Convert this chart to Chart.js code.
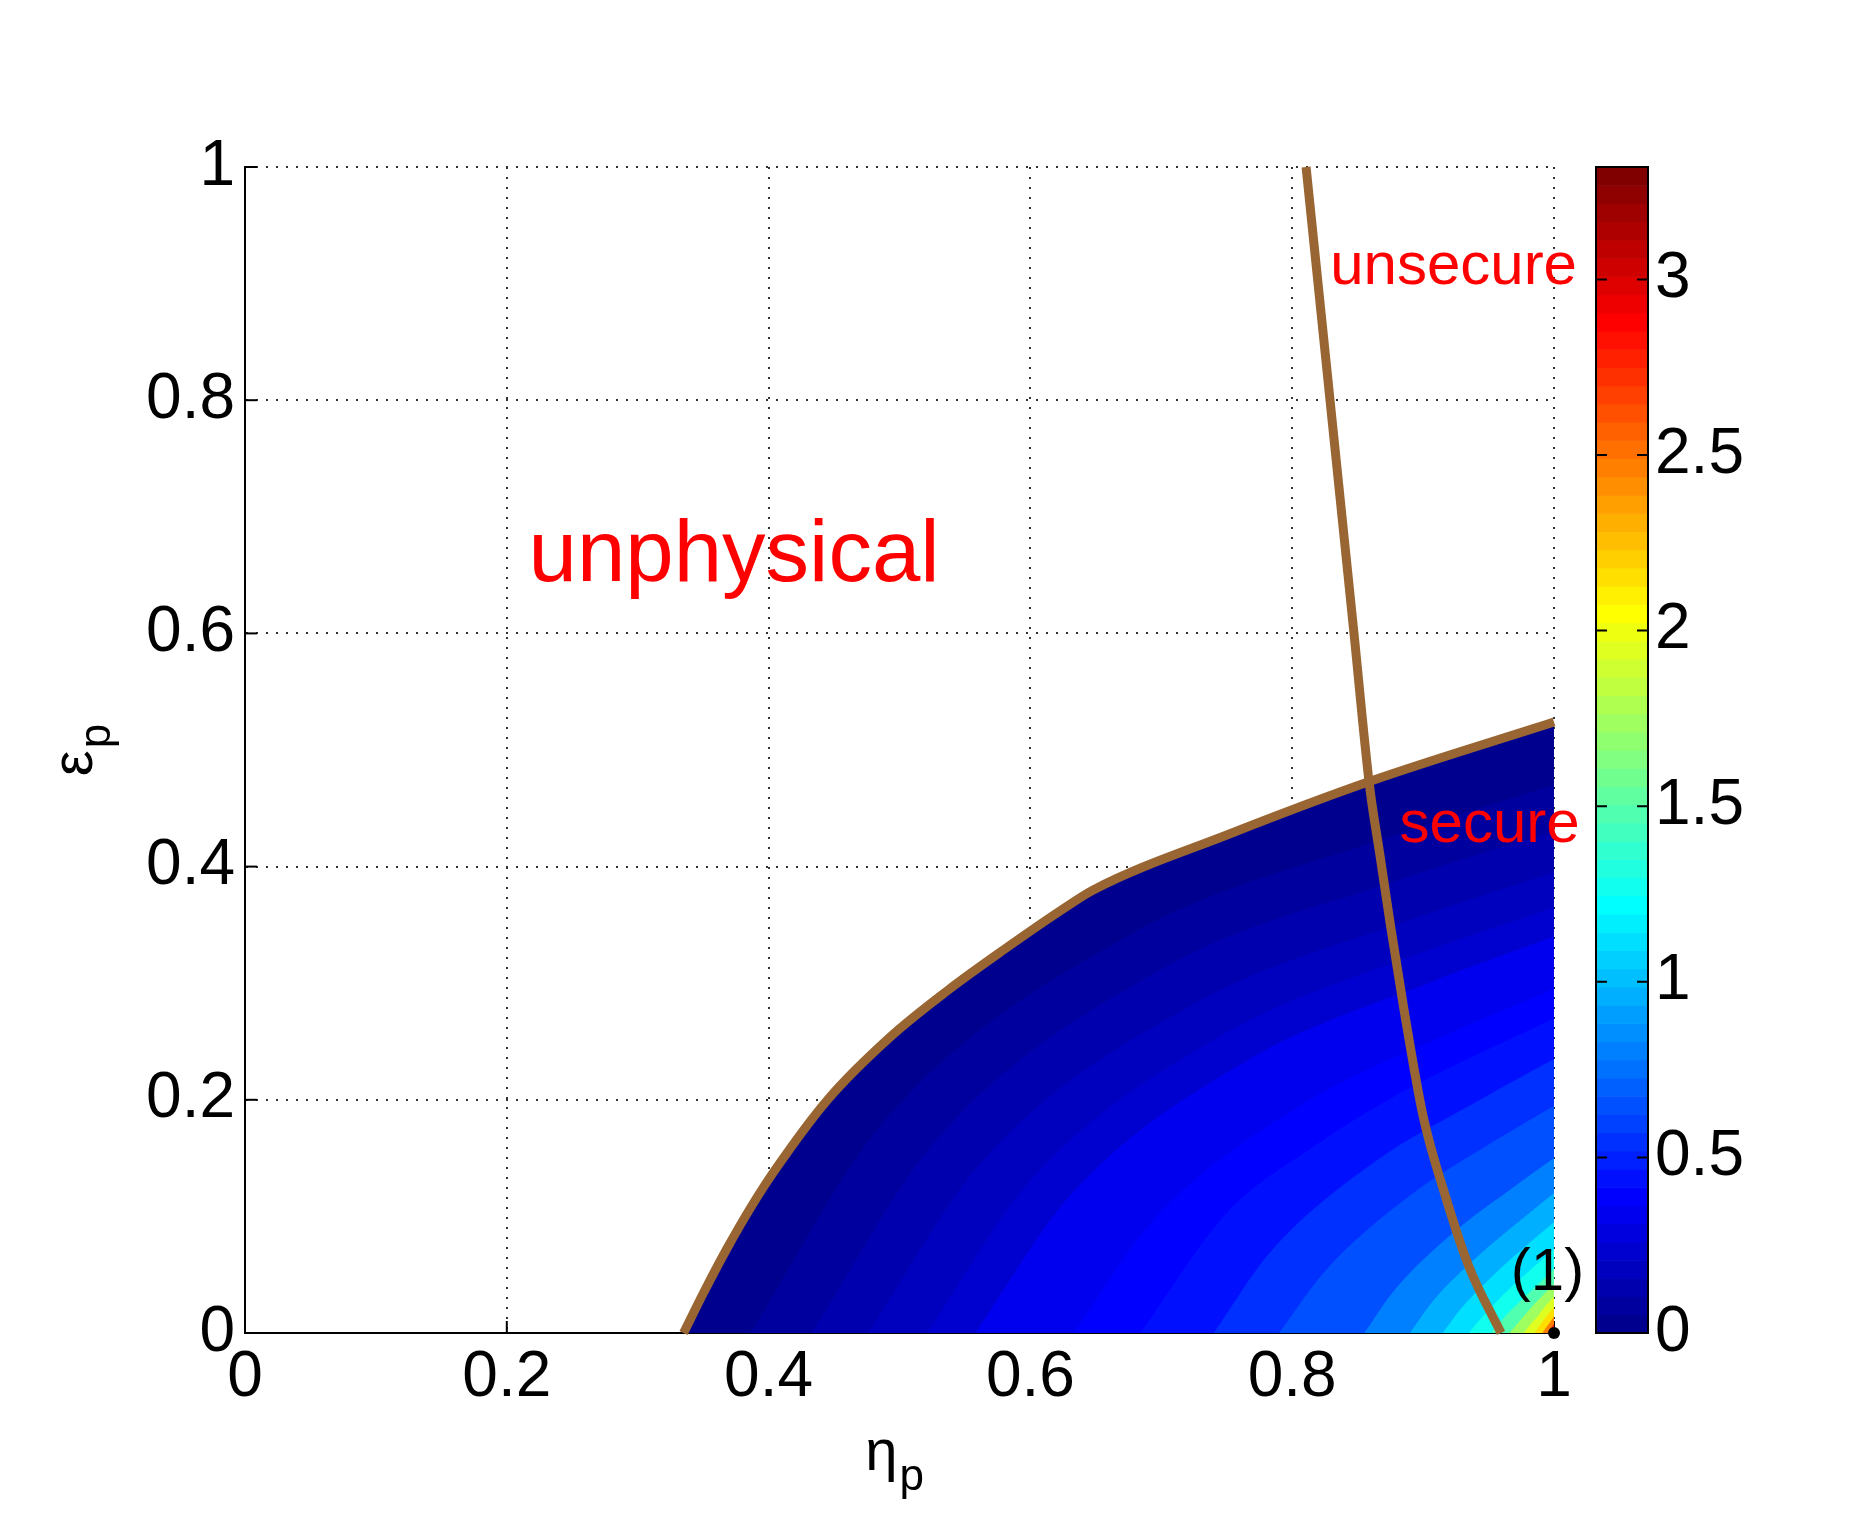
<!DOCTYPE html>
<html>
<head>
<meta charset="utf-8">
<script src="https://cdn.jsdelivr.net/npm/chart.js@4.4.1/dist/chart.umd.min.js"></script>
<style>
html, body { margin: 0; padding: 0; background: #fff; }
#wrap { width: 1870px; height: 1518px; position: relative; }
</style>
</head>
<body>
<div id="wrap"><canvas id="myChart"></canvas></div>
<script>
var xTicks = [0, 0.2, 0.4, 0.6, 0.8, 1];
var yTicks = [0, 0.2, 0.4, 0.6, 0.8, 1];
var barTicks = [0, 0.5, 1, 1.5, 2, 2.5, 3];
var barMax = 3.32;

// edge of the physical region (eta_p, eps_p)
var physicalEdge = [
	[0.335, 0], [0.351, 0.036], [0.368, 0.072], [0.386, 0.107], [0.405, 0.14],
	[0.445, 0.2], [0.493, 0.254], [0.537, 0.294], [0.58, 0.329], [0.624, 0.363],
	[0.648, 0.38], [0.752, 0.428], [0.859, 0.473], [1, 0.524],
];

// secure / unsecure border
var secureEdge = [
	[0.8106, 1], [0.8289, 0.8], [0.8472, 0.6], [0.859, 0.47], [0.867, 0.41],
	[0.875, 0.35], [0.885, 0.28], [0.9, 0.186], [0.918, 0.114], [0.935, 0.057], [0.9595, 0],
];

var pointOne = [[1, 0]];

// contour levels and the lines where they sit
var contourLevels = [0.05, 0.1, 0.15, 0.2, 0.26, 0.31, 0.36, 0.41, 0.5, 0.6, 0.75, 0.9, 1.05, 1.24, 1.45, 1.67, 1.9, 2.1, 2.4, 2.7, 3.0];
var contourLines = [
	[[0.386, 0], [0.487, 0.18], [0.675, 0.341], [0.87, 0.424], [1, 0.47]],
	[[0.433, 0], [0.527, 0.164], [0.7, 0.312], [0.88, 0.388], [1, 0.43]],
	[[0.476, 0], [0.563, 0.147], [0.723, 0.281], [0.889, 0.354], [1, 0.395]],
	[[0.521, 0], [0.6, 0.131], [0.747, 0.256], [0.898, 0.326], [1, 0.365]],
	[[0.558, 0], [0.631, 0.119], [0.766, 0.234], [0.906, 0.301], [1, 0.34]],
	[[0.594, 0], [0.661, 0.107], [0.785, 0.212], [0.914, 0.277], [1, 0.315]],
	[[0.633, 0], [0.694, 0.097], [0.806, 0.195], [0.922, 0.258], [1, 0.295]],
	[[0.684, 0], [0.75, 0.103], [0.8165, 0.16], [0.883, 0.206], [1, 0.27]],
	[[0.74, 0], [0.783, 0.069], [0.862, 0.146], [0.945, 0.201], [1, 0.235]],
	[[0.79, 0], [0.825, 0.053], [0.889, 0.117], [0.955, 0.165], [1, 0.195]],
	[[0.855, 0], [0.879, 0.038], [0.923, 0.086], [0.969, 0.125], [1, 0.15]],
	[[0.89, 0], [0.908, 0.028], [0.942, 0.066], [0.977, 0.099], [1, 0.12]],
	[[0.915, 0], [0.929, 0.021], [0.955, 0.051], [0.982, 0.078], [1, 0.095]],
	[[0.935, 0], [0.946, 0.015], [0.966, 0.038], [0.986, 0.058], [1, 0.072]],
	[[0.952, 0], [0.96, 0.011], [0.975, 0.028], [0.99, 0.044], [1, 0.055]],
	[[0.966, 0], [0.972, 0.008], [0.982, 0.021], [0.993, 0.034], [1, 0.042]],
	[[0.977, 0], [0.981, 0.006], [0.988, 0.015], [0.995, 0.025], [1, 0.031]],
	[[0.985, 0], [0.992, 0.011], [1, 0.022]],
	[[0.991, 0], [0.9955, 0.007], [1, 0.014]],
	[[0.995, 0], [1, 0.008]],
	[[0.998, 0], [1, 0.004]],
];

var regionLabels = [
	{ text: 'unphysical', x: 0.2166, y: 0.645, size: 87, color: '#ff0000' },
	{ text: 'unsecure', x: 0.829, y: 0.9, size: 60, color: '#ff0000' },
	{ text: 'secure', x: 0.882, y: 0.421, size: 60, color: '#ff0000' },
	{ text: '(1)', x: 0.967, y: 0.037, size: 60, color: '#000000' },
];

var FONT = "'Liberation Sans', Arial, Helvetica, sans-serif";
var brown = 'rgb(153,102,51)';

function jet(i) {
	var t = (i + 1) / 64;
	function c(v) { return Math.round(255 * Math.max(0, Math.min(1, v))); }
	return 'rgb(' + c(1.5 - Math.abs(4 * t - 3)) + ',' + c(1.5 - Math.abs(4 * t - 2)) + ',' + c(1.5 - Math.abs(4 * t - 1)) + ')';
}
function levelColor(v) {
	var i = v > 0 ? Math.floor(v / (barMax / 64)) + 1 : 0;
	return jet(Math.max(0, Math.min(63, i)));
}
function pts(arr) {
	return arr.map(function (p) { return { x: p[0], y: p[1] }; });
}

var datasets = [];
datasets.push({
	data: pts(pointOne), showLine: false, pointRadius: 6, pointBackgroundColor: '#000',
	pointBorderWidth: 0, order: 0, clip: false,
});
datasets.push({
	data: pts(secureEdge), borderColor: brown, borderWidth: 9, pointRadius: 0,
	fill: false, cubicInterpolationMode: 'monotone', order: 1, clip: false,
});
datasets.push({
	data: pts(physicalEdge), borderColor: brown, borderWidth: 9, pointRadius: 0,
	fill: false, cubicInterpolationMode: 'monotone', order: 2, clip: false,
});
datasets.push({
	data: pts(physicalEdge), borderColor: 'transparent', borderWidth: 0, pointRadius: 0,
	fill: 'origin', backgroundColor: levelColor(0), cubicInterpolationMode: 'monotone', order: 100,
});
contourLines.forEach(function (line, k) {
	datasets.push({
		data: pts(line), borderColor: 'transparent', borderWidth: 0, pointRadius: 0,
		fill: 'origin', backgroundColor: levelColor(contourLevels[k]),
		cubicInterpolationMode: 'monotone', order: 99 - k,
	});
});

var extras = {
	id: 'extras',
	beforeDatasetsDraw: function (chart) {
		var ctx = chart.ctx, a = chart.chartArea, sx = chart.scales.x, sy = chart.scales.y;
		ctx.save();
		ctx.strokeStyle = '#000';
		ctx.lineWidth = 2;
		xTicks.forEach(function (v) {
			var p = sx.getPixelForValue(v);
			ctx.beginPath(); ctx.moveTo(p, a.bottom); ctx.lineTo(p, a.bottom - 12); ctx.stroke();
		});
		yTicks.forEach(function (v) {
			var p = sy.getPixelForValue(v);
			ctx.beginPath(); ctx.moveTo(a.left, p); ctx.lineTo(a.left + 12, p); ctx.stroke();
		});
		ctx.restore();
	},
	afterDatasetsDraw: function (chart) {
		var ctx = chart.ctx, sx = chart.scales.x, sy = chart.scales.y;
		ctx.save();
		ctx.textAlign = 'left';
		ctx.textBaseline = 'alphabetic';
		regionLabels.forEach(function (l) {
			ctx.font = l.size + 'px ' + FONT;
			ctx.fillStyle = l.color;
			ctx.fillText(l.text, sx.getPixelForValue(l.x), sy.getPixelForValue(l.y));
		});
		ctx.restore();
	},
	afterDraw: function (chart) {
		var ctx = chart.ctx, a = chart.chartArea, sc = chart.scales.c;
		var x0 = 1596, x1 = 1648;
		ctx.save();
		// colour bar
		var step = barMax / 64;
		for (var i = 0; i < 64; i++) {
			var yb = sc.getPixelForValue(i * step), yt = sc.getPixelForValue((i + 1) * step);
			ctx.fillStyle = jet(i);
			ctx.fillRect(x0, yt, x1 - x0, yb - yt + 0.6);
		}
		ctx.strokeStyle = '#000';
		ctx.lineWidth = 2;
		ctx.strokeRect(x0, sc.getPixelForValue(barMax), x1 - x0, sc.getPixelForValue(0) - sc.getPixelForValue(barMax));
		barTicks.forEach(function (v) {
			var p = sc.getPixelForValue(v);
			ctx.beginPath();
			ctx.moveTo(x0, p); ctx.lineTo(x0 + 11, p);
			ctx.moveTo(x1 - 11, p); ctx.lineTo(x1, p);
			ctx.stroke();
		});
		// axis titles with subscripts
		ctx.fillStyle = '#000';
		ctx.textAlign = 'left';
		ctx.textBaseline = 'alphabetic';
		ctx.font = '58px ' + FONT;
		var wEta = ctx.measureText('\u03b7').width;
		ctx.font = '44px ' + FONT;
		var wP = ctx.measureText('p').width;
		var cx = (a.left + a.right) / 2 - 5;
		var sxT = cx - (wEta + wP + 2) / 2;
		ctx.font = '58px ' + FONT;
		ctx.fillText('\u03b7', sxT, 1470);
		ctx.font = '44px ' + FONT;
		ctx.fillText('p', sxT + wEta + 2, 1490);

		ctx.translate(92, (a.top + a.bottom) / 2);
		ctx.rotate(-Math.PI / 2);
		ctx.font = '58px ' + FONT;
		var wEps = ctx.measureText('\u03b5').width;
		var st = -(wEps + wP + 2) / 2;
		ctx.fillText('\u03b5', st, 0);
		ctx.font = '44px ' + FONT;
		ctx.fillText('p', st + wEps + 2, 18);
		ctx.restore();
	},
};

function fixTicks(list) {
	return function (scale) {
		scale.ticks = list.map(function (v) { return { value: v }; });
	};
}
function label(v) { return String(v); }

new Chart('myChart', {
	type: 'line',
	data: { datasets: datasets },
	options: {
		responsive: true,
		maintainAspectRatio: false,
		animation: false,
		devicePixelRatio: 1,
		layout: { padding: { top: 167, left: 0, right: 0, bottom: 0 } },
		plugins: { legend: { display: false }, tooltip: { enabled: false } },
		scales: {
			x: {
				type: 'linear', position: 'bottom', min: 0, max: 1,
				afterBuildTicks: fixTicks(xTicks),
				afterFit: function (s) { s.height = 185; },
				grid: { color: '#333', lineWidth: 2, drawTicks: false },
				border: { display: true, color: '#000', width: 2, dash: [2, 8] },
				ticks: { callback: label, autoSkip: false, maxRotation: 0, padding: 7, color: '#000', font: { family: FONT, size: 64 } },
			},
			y: {
				type: 'linear', position: 'left', min: 0, max: 1,
				afterBuildTicks: fixTicks(yTicks),
				afterFit: function (s) { s.width = 245; },
				grid: { color: '#333', lineWidth: 2, drawTicks: false },
				border: { display: true, color: '#000', width: 2, dash: [2, 8] },
				ticks: { callback: label, padding: 10, color: '#000', font: { family: FONT, size: 64 } },
			},
			c: {
				type: 'linear', position: 'right', min: 0, max: barMax,
				afterBuildTicks: fixTicks(barTicks),
				afterFit: function (s) { s.width = 316; },
				grid: { display: false, drawTicks: false },
				border: { display: false },
				ticks: { callback: label, padding: 101, color: '#000', font: { family: FONT, size: 64 } },
			},
		},
	},
	plugins: [extras],
});
</script>
</body>
</html>
